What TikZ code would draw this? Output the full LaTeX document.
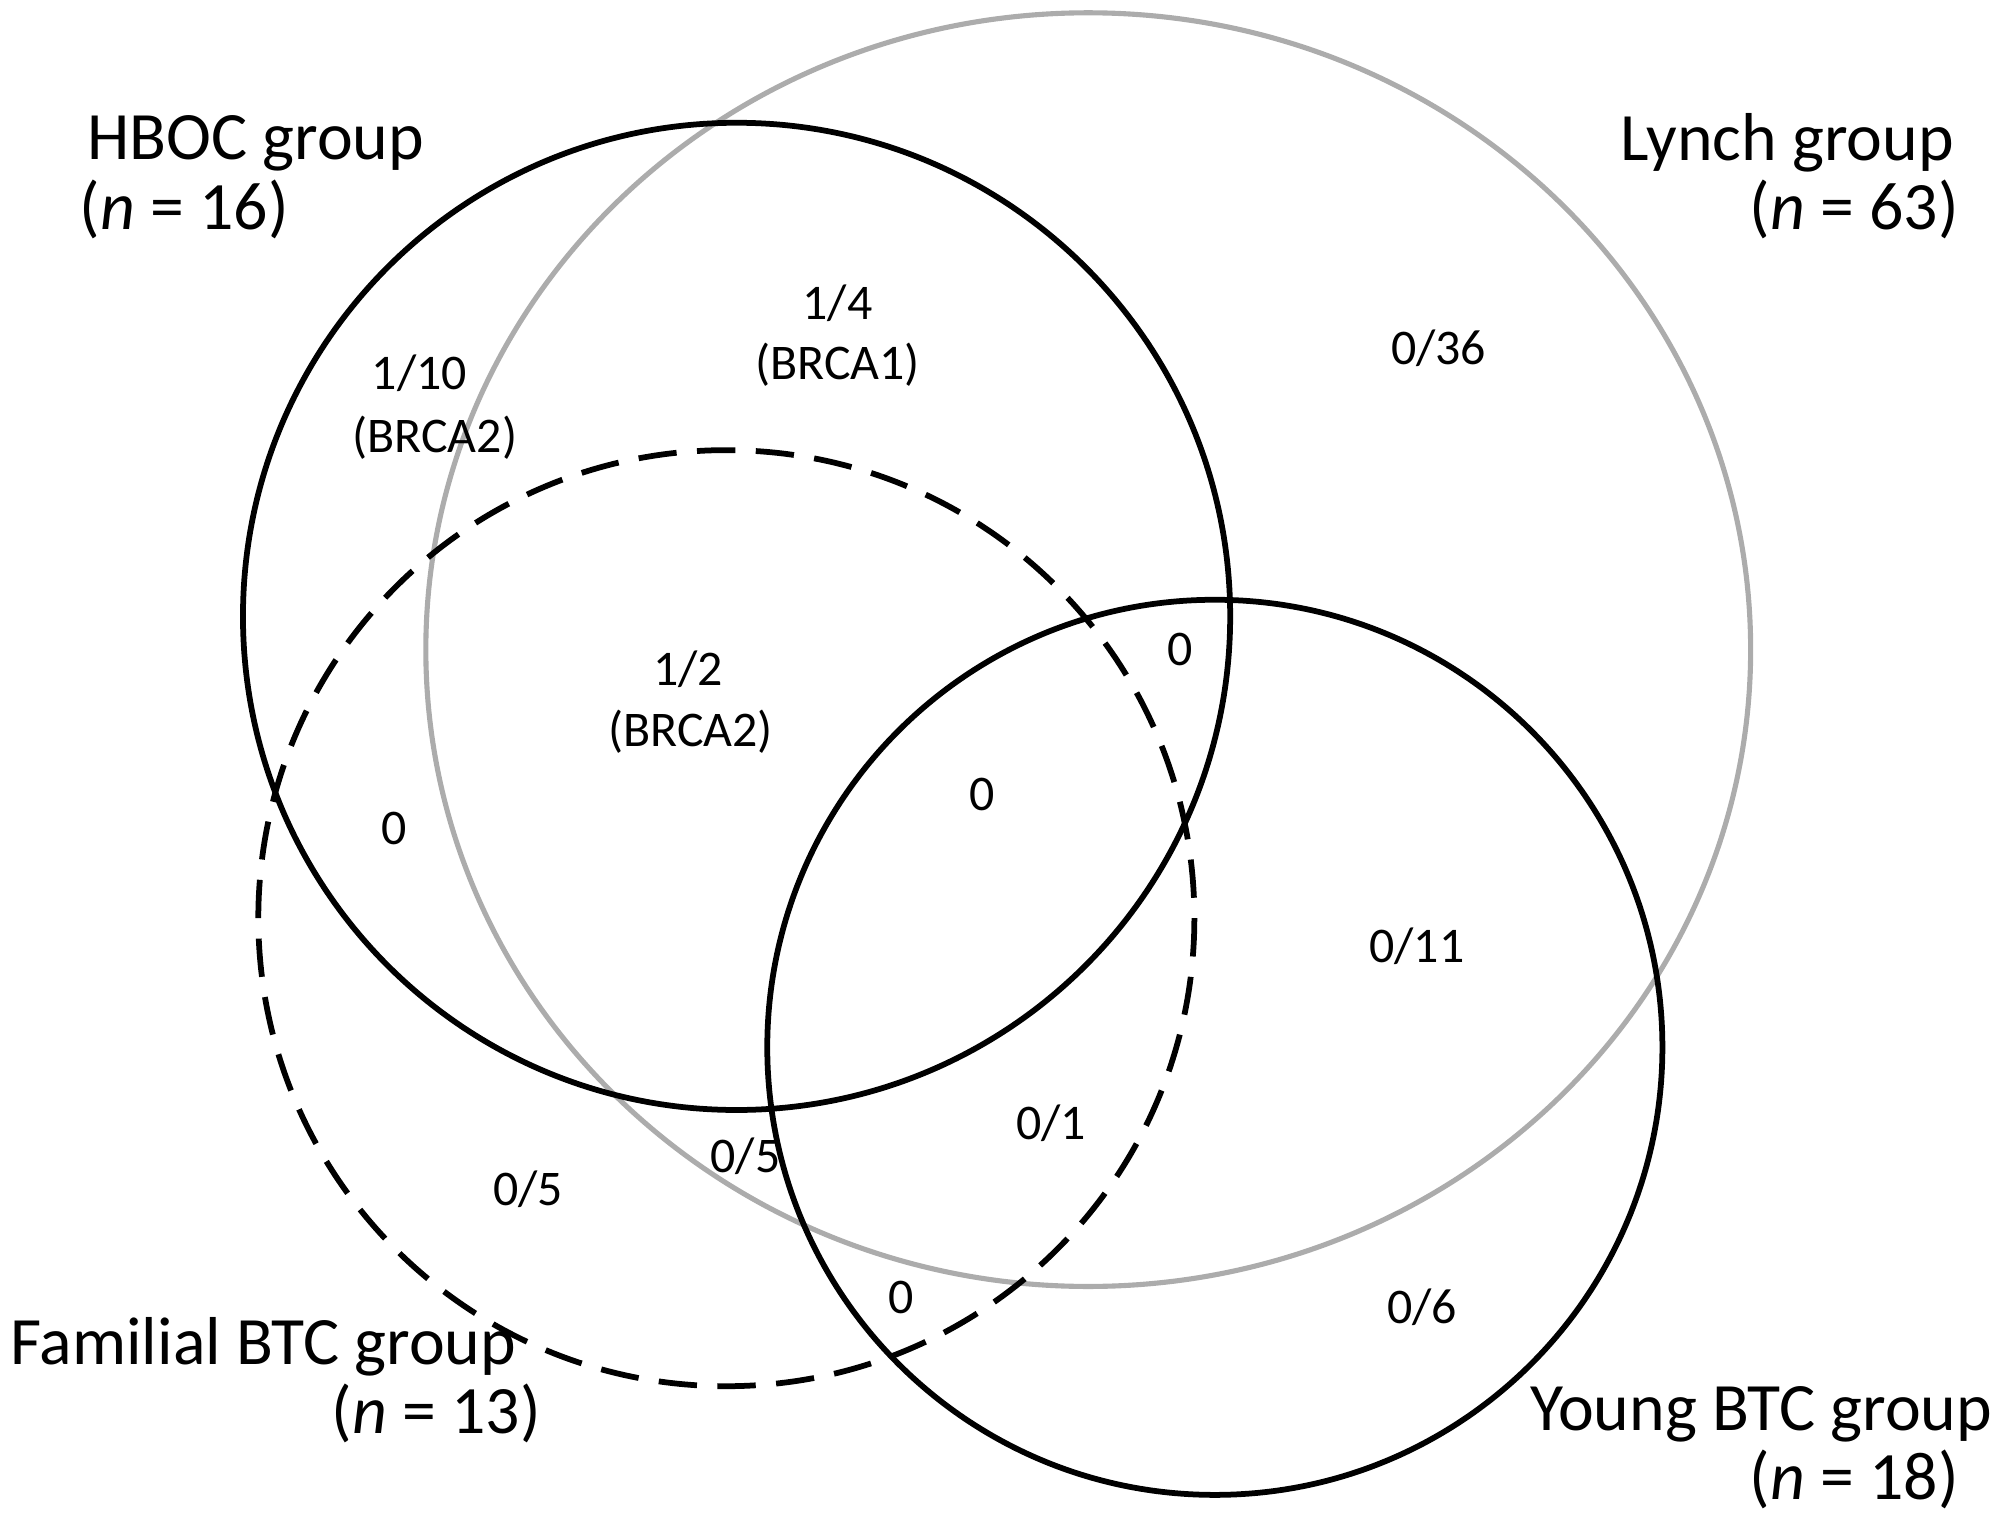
\documentclass[tikz,border=0pt]{standalone}
\usepackage{fontspec}
\setmainfont{Carlito}
\begin{document}
\begin{tikzpicture}[x=1pt,y=-1pt,
  big/.style={font=\fontsize{53}{60}\selectfont,inner sep=0pt},
  num/.style={font=\fontsize{39}{44}\selectfont,inner sep=0pt},
  ring/.style={line width=4.5pt}]
\useasboundingbox (0,0) rectangle (1564,1203);
\draw[line width=4pt,gray!65] (851,508) circle [x radius=518,y radius=498];
\draw[ring] (576,482) circle (386);
\draw[ring,dash pattern=on 30pt off 16pt] (568,718) circle (366);
\draw[ring] (950,819) circle (350);
\node[big,anchor=west] (h1) at (68,112) {HBOC group};
\node[big,anchor=west] (h2) at (62,164) {(\textit{n} = 16)};
\node[big,anchor=east] (l1) at (1528,112) {Lynch group};
\node[big,anchor=east] (l2) at (1532,164) {(\textit{n} = 63)};
\node[big,anchor=west] (f1) at (8,1053) {Familial BTC group};
\node[big] (f2) at (341,1105) {(\textit{n} = 13)};
\node[big,anchor=east] (y1) at (1558,1106) {Young BTC group};
\node[big,anchor=east] (y2) at (1532,1157) {(\textit{n} = 18)};
\node[num] (a1) at (328,292) {1/10};
\node[num] (a2) at (340,342) {(BRCA2)};
\node[num] (b1) at (655,237) {1/4};
\node[num] (b2) at (655,285) {(BRCA1)};
\node[num] (c) at (1125,272) {0/36};
\node[num] (d1) at (538,523) {1/2};
\node[num] (d2) at (540,572) {(BRCA2)};
\node[num] (e) at (923,508) {0};
\node[num] (f) at (308,648) {0};
\node[num] (g) at (768,621) {0};
\node[num] (h) at (1108,740) {0/11};
\node[num] (i) at (822,878) {0/1};
\node[num] (j) at (413,930) {0/5};
\node[num] (k) at (583,904) {0/5};
\node[num] (m) at (705,1015) {0};
\node[num] (o) at (1112,1022) {0/6};
\end{tikzpicture}
\end{document}
